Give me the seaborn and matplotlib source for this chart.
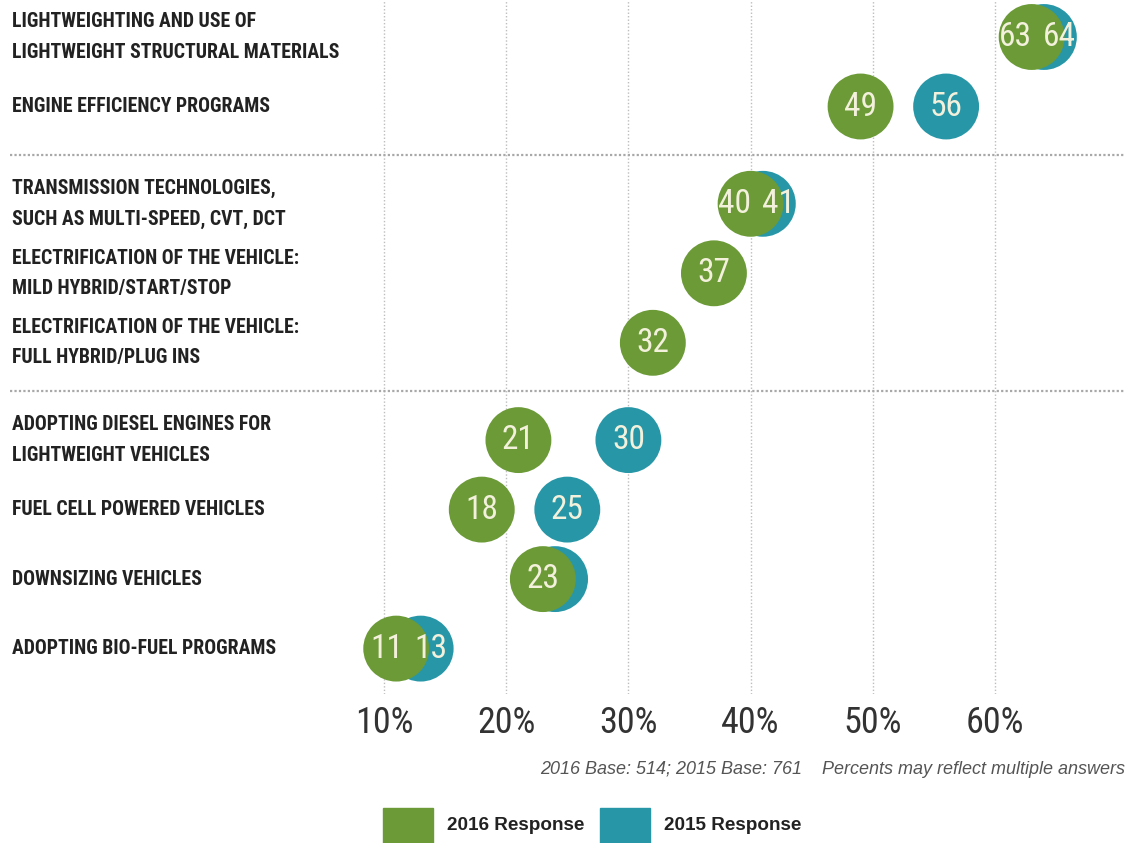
import numpy as np
import pandas as pd
import matplotlib
matplotlib.use("Agg")
import matplotlib.pyplot as plt
import seaborn as sns
from matplotlib.patches import Rectangle
from matplotlib.transforms import blended_transform_factory

# ---- data -------------------------------------------------------------
categories = [
    "LIGHTWEIGHTING AND USE OF\nLIGHTWEIGHT STRUCTURAL MATERIALS",
    "ENGINE EFFICIENCY PROGRAMS",
    "TRANSMISSION TECHNOLOGIES,\nSUCH AS MULTI-SPEED, CVT, DCT",
    "ELECTRIFICATION OF THE VEHICLE:\nMILD HYBRID/START/STOP",
    "ELECTRIFICATION OF THE VEHICLE:\nFULL HYBRID/PLUG INS",
    "ADOPTING DIESEL ENGINES FOR\nLIGHTWEIGHT VEHICLES",
    "FUEL CELL POWERED VEHICLES",
    "DOWNSIZING VEHICLES",
    "ADOPTING BIO-FUEL PROGRAMS",
]
groups = [0, 0, 1, 1, 1, 2, 2, 2, 2]
resp_2016 = [63, 49, 40, 37, 32, 21, 18, 23, 11]
resp_2015 = [64, 56, 41, np.nan, np.nan, 30, 25, 24, 13]
unlabeled_2015 = ["DOWNSIZING VEHICLES"]
series_names = ["2016 Response", "2015 Response"]
x_ticks = [10, 20, 30, 40, 50, 60]
x_tick_labels = ["10%", "20%", "30%", "40%", "50%", "60%"]
footnote = "2016 Base: 514; 2015 Base: 761    Percents may reflect multiple answers"

# ---- style ------------------------------------------------------------
GREEN = "#6b9a37"
TEAL = "#2797a8"
NUM_COLOR = "#f3f1dc"
palette = {series_names[0]: GREEN, series_names[1]: TEAL}

sns.set_theme(style="white")
NARROW = ["Roboto Condensed", "Liberation Sans Narrow", "DejaVu Sans"]
plt.rcParams["font.family"] = ["Liberation Sans", "DejaVu Sans"]

# row positions: one unit per row, extra gap between groups
GROUP_GAP = 0.4
ypos = [i + GROUP_GAP * g for i, g in enumerate(groups)]

rows = []
for cat, y, v15 in zip(categories, ypos, resp_2015):
    if not np.isnan(v15):
        rows.append({"category": cat, "y": y, "value": v15, "series": series_names[1]})
for cat, y, v16 in zip(categories, ypos, resp_2016):
    rows.append({"category": cat, "y": y, "value": v16, "series": series_names[0]})
df = pd.DataFrame(rows)

W, H = 1135, 843
fig = plt.figure(figsize=(W / 100, H / 100), dpi=100)
ax = fig.add_axes([0, 149 / H, 1, 694 / H])

px_per_unit = 12.22          # pixels per percentage point
x0_px = 384                  # pixel column of the 10% gridline
ax.set_xlim(10 - x0_px / px_per_unit, 10 + (W - x0_px) / px_per_unit)
row_px, top_px = 69.5, 37
ax.set_ylim((694 - top_px) / row_px, -top_px / row_px)

# vertical dotted gridlines
for t in x_ticks:
    ax.axvline(t, color="#bdbdbd", lw=1.0, ls=(0, (1, 1.5)), zorder=0)

# horizontal dotted separators between groups
for g in sorted(set(groups))[1:]:
    prev_y = max(y for y, gg in zip(ypos, groups) if gg == g - 1)
    next_y = min(y for y, gg in zip(ypos, groups) if gg == g)
    ax.axhline((prev_y + next_y) / 2, xmin=10 / W, xmax=1125 / W,
               color="#a8a8a8", lw=1.6, ls=(0, (1, 1)), zorder=0)

sns.scatterplot(data=df, x="value", y="y", hue="series", palette=palette,
                s=2250, edgecolor="none", linewidth=0, alpha=1,
                legend=False, ax=ax, zorder=3)

# value numbers inside circles; spread apart when circles overlap
need = 3.6
for cat, y, v16, v15 in zip(categories, ypos, resp_2016, resp_2015):
    shift = 0.0
    if not np.isnan(v15):
        diff = abs(v15 - v16)
        shift = max(0.0, (need - diff) / 2)
        if cat not in unlabeled_2015:
            sgn = 1 if v15 >= v16 else -1
            ax.text(v15 + sgn * shift, y, f"{int(v15)}", ha="center", va="center",
                    color=NUM_COLOR, fontsize=24, family=NARROW, zorder=6)
        else:
            shift = 0.0
    sgn16 = -1 if (not np.isnan(v15) and v15 >= v16) else 1
    ax.text(v16 + sgn16 * shift, y, f"{int(v16)}", ha="center", va="center",
            color=NUM_COLOR, fontsize=24, family=NARROW, zorder=6)

# category labels at the left edge
trans = blended_transform_factory(fig.transFigure, ax.transData)
for cat, y in zip(categories, ypos):
    ax.text(12 / W, y, cat, transform=trans, ha="left", va="center",
            fontsize=14.2, fontweight="bold", color="#222222", family=NARROW,
            linespacing=1.75)

ax.set_xticks(x_ticks)
ax.set_xticklabels(x_tick_labels, family=NARROW, fontsize=26, color="#333333")
ax.tick_params(axis="x", length=0, pad=8)
ax.set_yticks([])
ax.set_xlabel("")
ax.set_ylabel("")
sns.despine(ax=ax, left=True, bottom=True)

# footnote
fig.text(1125 / W, (H - 770) / H, footnote, ha="right", va="center",
         style="italic", fontsize=13, color="#555555")

# legend swatches
for x_px, name, col in [(383, series_names[0], GREEN), (600, series_names[1], TEAL)]:
    fig.patches.append(Rectangle((x_px / W, 0), 50 / W, 35 / H,
                                 transform=fig.transFigure, color=col, zorder=2))
    fig.text((x_px + 64) / W, (H - 826) / H, name, ha="left", va="center",
             fontsize=13.6, fontweight="bold", color="#222222")

fig.savefig("out.png", dpi=100)
